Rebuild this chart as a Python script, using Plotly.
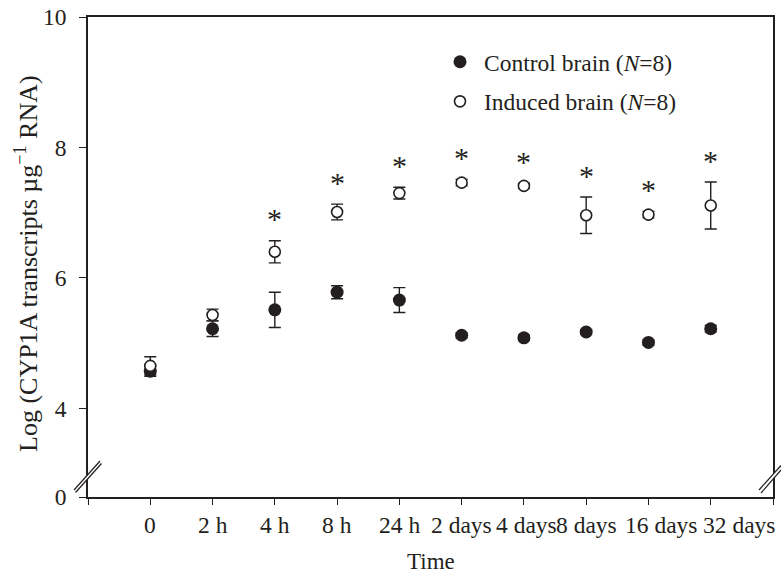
import plotly.graph_objects as go

# ---- data ----
time_labels = ["0", "2 h", "4 h", "8 h", "24 h", "2 days", "4 days", "8 days", "16 days", "32 days"]
control_mean = [4.57, 5.22, 5.51, 5.78, 5.66, 5.12, 5.08, 5.17, 5.01, 5.22]
control_se = [0.08, 0.12, 0.27, 0.10, 0.19, 0.04, 0.04, 0.04, 0.04, 0.05]
induced_mean = [4.65, 5.43, 6.40, 7.01, 7.30, 7.46, 7.41, 6.96, 6.97, 7.11]
induced_se = [0.14, 0.09, 0.17, 0.12, 0.09, 0.05, 0.04, 0.28, 0.05, 0.36]
significant = [False, False, True, True, True, True, True, True, True, True]
y_tick_vals = [2.64, 4, 6, 8, 10]      # bottom of broken axis is labelled 0
y_tick_text = ["0", "4", "6", "8", "10"]

# horizontal nudges (px) of the crowded x tick labels, as set in the original figure
label_nudge = [0, 0, 0, 0, 0, 0, 3, 0, 13, 28]

INK = "#231f20"
FONT = "Liberation Serif, Times New Roman, serif"
FS = 23.5

x_idx = list(range(len(time_labels)))

fig = go.Figure()
fig.add_trace(go.Scatter(
    x=x_idx, y=control_mean, mode="markers",
    name="Control brain (<i>N</i>=8)", legendgroup="c",
    marker=dict(symbol="circle", size=13, color=INK, line=dict(width=0)),
    error_y=dict(type="data", array=control_se, visible=True, color=INK, thickness=1.4, width=6),
))
fig.add_trace(go.Scatter(
    x=x_idx, y=induced_mean, mode="markers",
    name="Induced brain (<i>N</i>=8)", legendgroup="i",
    marker=dict(symbol="circle", size=11, color="white", line=dict(width=1.6, color=INK)),
    error_y=dict(type="data", array=induced_se, visible=True, color=INK, thickness=1.4, width=6),
))

# significance asterisks
for xi, m, s, sig in zip(x_idx, induced_mean, induced_se, significant):
    if sig:
        fig.add_annotation(x=xi, y=m + s, text="*", showarrow=False, yanchor="middle",
                           yshift=22, font=dict(family=FONT, size=30, color=INK))

# x tick labels
for xi, lab, dx in zip(x_idx, time_labels, label_nudge):
    fig.add_annotation(x=xi, xref="x", y=0, yref="paper", text=lab, showarrow=False,
                       xanchor="center", yanchor="middle", xshift=dx, yshift=-27.5,
                       font=dict(family=FONT, size=FS, color=INK))

W, H = 781, 575
L, R, T, B = 88, 8, 17, 78
pw, ph = W - L - R, H - T - B


def px(xp):
    return (xp - L) / pw


def py(yp):
    return (H - B - yp) / ph


# axis titles
fig.add_annotation(x=px(431), y=py(561), xref="paper", yref="paper", text="Time",
                   showarrow=False, xanchor="center", yanchor="middle",
                   font=dict(family=FONT, size=23, color=INK))
fig.add_annotation(x=px(26), y=py(264), xref="paper", yref="paper",
                   text="Log (CYP1A transcripts µg<sup>−1</sup> RNA)", textangle=-90,
                   showarrow=False, xanchor="center", yanchor="middle",
                   font=dict(family=FONT, size=26, color=INK))

# axis-break marks
shapes = []
for (x0, y0, x1, y1, x2, y2, x3, y3) in [
    (74, 490, 100, 461, 75.5, 492.5, 101.5, 463.5),
    (759, 490, 781, 465.5, 761, 493, 781, 470),
]:
    shapes.append(dict(type="line", xref="paper", yref="paper",
                       x0=px((x0 + x2) / 2), y0=py((y0 + y2) / 2),
                       x1=px((x1 + x3) / 2), y1=py((y1 + y3) / 2),
                       line=dict(color="white", width=3)))
    shapes.append(dict(type="line", xref="paper", yref="paper",
                       x0=px(x0), y0=py(y0), x1=px(x1), y1=py(y1),
                       line=dict(color=INK, width=1.2)))
    shapes.append(dict(type="line", xref="paper", yref="paper",
                       x0=px(x2), y0=py(y2), x1=px(x3), y1=py(y3),
                       line=dict(color=INK, width=1.2)))

fig.update_layout(
    width=W, height=H,
    margin=dict(l=L, r=R, t=T, b=B, autoexpand=False),
    paper_bgcolor="white", plot_bgcolor="white",
    font=dict(family=FONT, size=FS, color=INK),
    showlegend=True,
    legend=dict(x=px(436), y=py(40), xanchor="left", yanchor="top", itemwidth=38,
                bgcolor="rgba(0,0,0,0)", font=dict(family=FONT, size=FS, color=INK),
                tracegroupgap=6),
    shapes=shapes,
    xaxis=dict(
        range=[-1, len(time_labels)],
        tickmode="array",
        tickvals=[-1] + x_idx + [len(time_labels)],
        showticklabels=False,
        automargin=False,
        ticks="outside", ticklen=6, tickwidth=1.3, tickcolor=INK,
        showline=True, linecolor=INK, linewidth=1.5, mirror=True,
        showgrid=False, zeroline=False,
    ),
    yaxis=dict(
        range=[y_tick_vals[0], 10], automargin=False,
        tickmode="array", tickvals=y_tick_vals, ticktext=y_tick_text,
        ticks="outside", ticklen=7, tickwidth=1.3, tickcolor=INK,
        ticklabelstandoff=8,
        showline=True, linecolor=INK, linewidth=1.5, mirror=True,
        showgrid=False, zeroline=False,
        tickfont=dict(family=FONT, size=FS, color=INK),
    ),
)

fig.write_html(
    "out.html",
    config={"displayModeBar": False},
    post_script="document.body.style.margin='0';document.body.style.overflow='hidden';",
)
